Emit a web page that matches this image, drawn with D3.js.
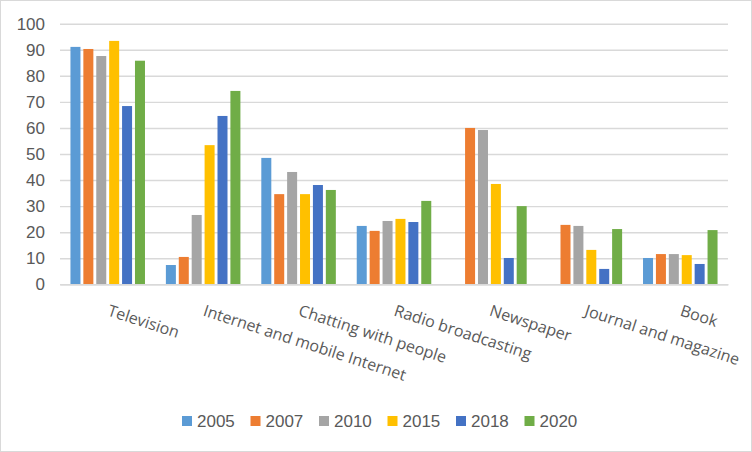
<!DOCTYPE html>
<html>
<head>
<meta charset="utf-8">
<script src="https://cdn.jsdelivr.net/npm/d3@7"></script>
<style>
  html, body { margin: 0; padding: 0; background: #fff; }
  svg { display: block; }
</style>
</head>
<body>
<svg id="chart" width="752" height="452"></svg>
<script>
const categories = ["Television", "Internet and mobile Internet", "Chatting with people", "Radio broadcasting", "Newspaper", "Journal and magazine", "Book"];
const seriesNames = ["2005", "2007", "2010", "2015", "2018", "2020"];
const colors = ["#5B9BD5", "#ED7D31", "#A5A5A5", "#FFC000", "#4472C4", "#70AD47"];
const v2005 = [91.1, 7.4, 48.5, 22.4, 0, 0, 10.1];
const v2007 = [90.3, 10.5, 34.6, 20.5, 60.0, 22.8, 11.6];
const v2010 = [87.6, 26.6, 43.1, 24.3, 59.2, 22.4, 11.6];
const v2015 = [93.4, 53.4, 34.6, 25.1, 38.5, 13.2, 11.2];
const v2018 = [68.4, 64.6, 38.1, 23.9, 10.1, 5.9, 7.8];
const v2020 = [85.8, 74.2, 36.2, 32.0, 30.0, 21.2, 20.8];
const yTicks = [0, 10, 20, 30, 40, 50, 60, 70, 80, 90, 100];

(function () {
const seriesValues = [v2005, v2007, v2010, v2015, v2018, v2020];
const data = categories.map((c, i) => ({
  cat: c,
  vals: seriesNames.map((s, j) => ({ key: s, value: seriesValues[j][i], color: colors[j] }))
}));

const svg = d3.select("#chart");
const textColor = "#595959";
const gridColor = "#D9D9D9";

svg.append("rect").attr("x", 0.5).attr("y", 0.5).attr("width", 751).attr("height", 451)
  .attr("fill", "#fff").attr("stroke", gridColor).attr("stroke-width", 1);

const mLeft = 60, mRight = 728, mTop = 23.7, mBottom = 284.3;
const y = d3.scaleLinear().domain([0, 100]).range([mBottom, mTop]);
const x0 = d3.scaleBand().domain(categories).range([mLeft, mRight]).padding(0);
const x1 = d3.scaleBand().domain(seriesNames).range([0, x0.bandwidth()])
  .paddingInner(0.225).paddingOuter(0.81);

const yAxis = d3.axisLeft(y).tickValues(yTicks).tickSize(-(mRight - mLeft)).tickPadding(15);
const gy = svg.append("g").attr("transform", `translate(${mLeft},0)`).call(yAxis);
gy.select(".domain").remove();
gy.selectAll(".tick line").attr("stroke", gridColor).attr("stroke-width", 1.4);
gy.selectAll(".tick text").attr("fill", textColor)
  .style("font-family", "'Liberation Sans', Arial, sans-serif").style("font-size", "17px");

const groups = svg.append("g").selectAll("g").data(data).join("g")
  .attr("transform", d => `translate(${x0(d.cat)},0)`);
groups.selectAll("rect").data(d => d.vals.filter(v => v.value > 0)).join("rect")
  .attr("x", d => x1(d.key))
  .attr("width", x1.bandwidth())
  .attr("y", d => y(d.value))
  .attr("height", d => y(0) - y(d.value))
  .attr("fill", d => d.color);

const xAxis = d3.axisBottom(x0).tickSize(0).tickPadding(0);
const gx = svg.append("g").attr("transform", `translate(0,${mBottom})`).call(xAxis);
gx.select(".domain").attr("stroke", gridColor).attr("stroke-width", 1.4);
gx.selectAll(".tick text")
  .attr("fill", textColor)
  .style("font-family", "'Open Sans', sans-serif").style("font-size", "16px")
  .attr("text-anchor", "start")
  .attr("x", 0).attr("y", 0).attr("dy", "0")
  .attr("transform", "translate(-1,31) rotate(18)");

const legend = svg.append("g").attr("transform", "translate(182,416)");
const li = legend.selectAll("g").data(seriesNames).join("g")
  .attr("transform", (d, i) => `translate(${i * 68.5},0)`);
li.append("rect").attr("width", 10).attr("height", 10).attr("fill", (d, i) => colors[i]);
li.append("text").attr("x", 15).attr("y", 11).text(d => d)
  .attr("fill", textColor)
  .style("font-family", "'Liberation Sans', Arial, sans-serif").style("font-size", "17px");
})();
</script>
</body>
</html>
